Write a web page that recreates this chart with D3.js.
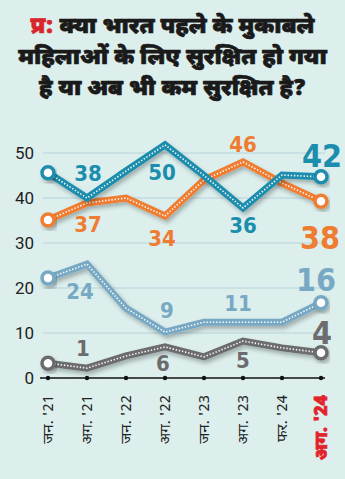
<!DOCTYPE html>
<html><head><meta charset="utf-8">
<script src="https://cdn.jsdelivr.net/npm/d3@7"></script>
<style>
html,body{margin:0;padding:0;background:#dcefed;}
svg{display:block;}
</style></head>
<body>
<script>
const categories = ["जन. '21","अग. '21","जन. '22","अग. '22","जन. '23","अग. '23","फर. '24","अग. '24"];
const yTicks = [0,10,20,30,40,50];
const tealValues   = [45.6, 40, 46, 51.8, 45, 37.8, 45.1, 44.7];
const orangeValues = [35.1, 38.9, 40, 36, 44, 48, 43.3, 39.3];
const lightValues  = [22.2, 25.3, 15.5, 10.2, 12.4, 12.4, 12.4, 16.7];
const grayValues   = [3.3, 2.2, 4.9, 6.9, 4.7, 8.2, 6.7, 5.6];
const tealLabels   = [null,"38",null,"50",null,"36",null,"42"];
const orangeLabels = [null,"37",null,"34",null,"46",null,"38"];
const lightLabels  = [null,"24",null,"9",null,"11",null,"16"];
const grayLabels   = [null,"1",null,"6",null,"5",null,"4"];
const titleLines = [["प्र:","क्या भारत पहले के मुकाबले"],[null,"महिलाओं के लिए सुरक्षित हो गया"],[null,"है या अब भी कम सुरक्षित है?"]];

const W=345,H=479;
const svg=d3.select("body").append("svg").attr("width",W).attr("height",H);
svg.append("rect").attr("width",W).attr("height",H).attr("fill","#dcefed");
const defs=svg.append("defs");
const f=defs.append("filter").attr("id","sh").attr("x","-20%").attr("y","-20%").attr("width","140%").attr("height","160%");
f.append("feDropShadow").attr("dx",2).attr("dy",3).attr("stdDeviation",2).attr("flood-color","#000").attr("flood-opacity",0.28);

// title
const tf='"Noto Sans Devanagari","Lohit Devanagari","Noto Sans",sans-serif';
const tY=[33,64,95];
titleLines.forEach((ln,i)=>{
  const t=svg.append("text").attr("x",W/2).attr("y",tY[i]).attr("text-anchor","middle")
    .style("font-family",tf).style("font-weight",900).style("font-size","23px")
    .attr("fill","#1a1a1a").attr("stroke","#1a1a1a").attr("stroke-width",0.7).attr("stroke-linejoin","round");
  if(ln[0]) t.append("tspan").attr("fill","#d9262c").attr("stroke","#d9262c").text(ln[0]+" ");
  t.append("tspan").text(ln[1]);
});

const x=d3.scalePoint().domain(categories).range([48,321]);
const y=d3.scaleLinear().domain([0,50]).range([378,153]);

// grid
svg.append("g").selectAll("line").data(yTicks.filter(d=>d>0)).join("line")
  .attr("x1",43).attr("x2",325).attr("y1",d=>y(d)).attr("y2",d=>y(d))
  .attr("stroke","#b6d3da").attr("stroke-width",1);
// y labels
const yAxis=d3.axisLeft(y).tickValues(yTicks).tickSize(0).tickPadding(0);
const ga=svg.append("g").attr("transform","translate(34,0)").call(yAxis);
ga.select(".domain").remove();
ga.selectAll("text").style("font-family","Roboto, 'Open Sans', sans-serif").style("font-size","17px").attr("fill","#1e1e1e");

// x axis
const xAxis=d3.axisBottom(x).tickSize(0).tickFormat("");
const gx=svg.append("g").attr("transform",`translate(0,${y(0)})`).call(xAxis);
gx.select(".domain").attr("stroke","#111").attr("stroke-width",1.3).attr("d","M40,0H325");
svg.append("g").selectAll("circle").data(categories).join("circle")
  .attr("cx",d=>x(d)).attr("cy",y(0)).attr("r",2.2).attr("fill","#111");
const last=categories.length-1;
svg.append("g").selectAll("text").data(categories).join("text")
  .attr("transform",(d,i)=>`translate(${x(d)+(i===last?6:5)},395) rotate(-90)`)
  .attr("text-anchor","end")
  .style("font-family",tf).style("font-size",(d,i)=>i===last?"18px":"15px")
  .style("font-weight",(d,i)=>i===last?900:400)
  .attr("stroke",(d,i)=>i===last?"#e3222a":"none").attr("stroke-width",0.6)
  .attr("fill",(d,i)=>i===last?"#e3222a":"#222").text(d=>d);

const series=[
 {v:grayValues,l:grayLabels,c:"#6c6c6e",off:[0,-20,0,17,0,19,0,-20],dx:[0,-4,0,-2,0,0,0,1]},
 {v:lightValues,l:lightLabels,c:"#78a9c4",off:[0,27,0,-22,0,-19,0,-23],dx:[0,-7,0,2,0,-5,0,-5]},
 {v:orangeValues,l:orangeLabels,c:"#ef7d31",off:[0,22,0,22,0,-18,0,37],dx:[0,1,0,-3,0,0,0,-1]},
 {v:tealValues,l:tealLabels,c:"#1b8dad",off:[0,-25,0,28,0,18,0,-21],dx:[0,1,0,-3,0,0,0,1]}
];
const line=d3.line().x((d,i)=>x(categories[i])).y(d=>y(d));
series.forEach(s=>{
  const g=svg.append("g");
  g.append("path").attr("d",line(s.v)).attr("fill","none").attr("stroke",s.c).attr("stroke-width",7)
   .attr("stroke-linejoin","miter").attr("filter","url(#sh)");
  g.append("path").attr("d",line(s.v)).attr("fill","none").attr("stroke","#fff").attr("stroke-width",1.6)
   .attr("stroke-dasharray","1.4,1.8").attr("opacity",0.95);
  [0,s.v.length-1].forEach(i=>{
    g.append("circle").attr("cx",x(categories[i])).attr("cy",y(s.v[i])).attr("r",6)
     .attr("fill","#fff").attr("stroke",s.c).attr("stroke-width",3.5).attr("filter","url(#sh)");
  });
});
series.forEach(s=>{
  svg.append("g").selectAll("text").data(s.l.map((t,i)=>({t,i})).filter(d=>d.t)).join("text")
   .attr("x",d=>x(categories[d.i])+s.dx[d.i]).attr("y",d=>y(s.v[d.i])+s.off[d.i])
   .attr("text-anchor","middle").attr("dominant-baseline","central")
   .style("font-family","'Liberation Sans Narrow','DejaVu Sans Condensed','Roboto',sans-serif")
   .style("font-stretch","condensed").style("font-weight",700)
   .style("font-size",d=>d.i===s.v.length-1?"32px":"22px")
   .attr("fill",s.c).text(d=>d.t);
});
</script>
</body></html>
